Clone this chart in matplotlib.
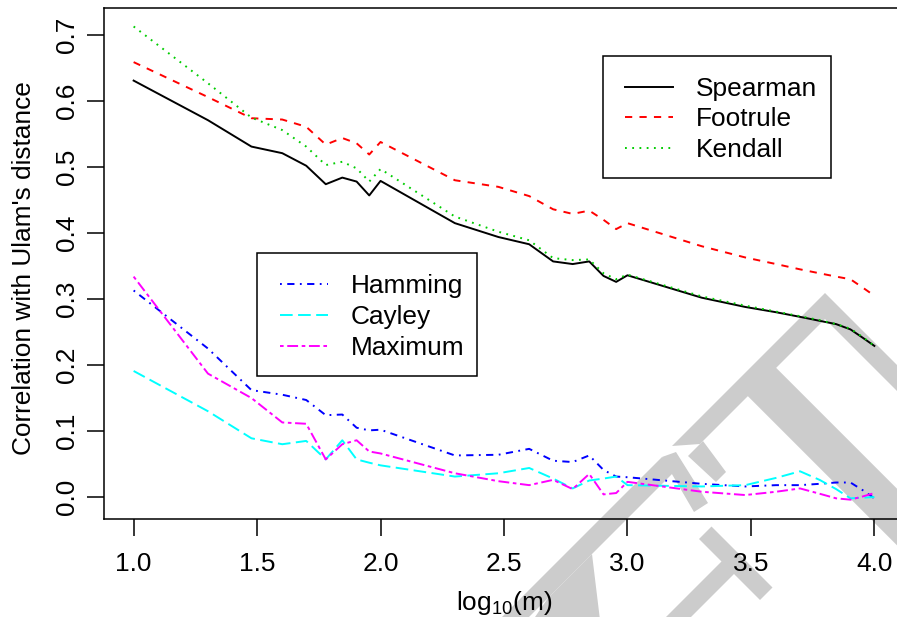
import numpy as np
import matplotlib.pyplot as plt
from matplotlib.patches import Polygon, Rectangle
from matplotlib.lines import Line2D

plt.rcParams['font.family'] = ['Liberation Sans', 'DejaVu Sans']
plt.rcParams['mathtext.default'] = 'regular'

# sample sizes (x axis is log10 of these)
m = [10, 20, 30, 40, 50, 60, 70, 80, 90,
     100, 200, 300, 400, 500, 600, 700, 800, 900,
     1000, 2000, 3000, 4000, 5000, 6000, 7000, 8000, 9000, 10000]

spearman = [0.631, 0.571, 0.531, 0.521, 0.502, 0.474, 0.484, 0.478, 0.457,
            0.479, 0.415, 0.394, 0.383, 0.357, 0.353, 0.357, 0.335, 0.326,
            0.336, 0.302, 0.288, 0.280, 0.273, 0.267, 0.262, 0.254, 0.241, 0.229]
footrule = [0.659, 0.606, 0.574, 0.572, 0.561, 0.534, 0.544, 0.536, 0.519,
            0.538, 0.480, 0.470, 0.456, 0.436, 0.429, 0.434, 0.420, 0.406,
            0.415, 0.380, 0.363, 0.353, 0.345, 0.339, 0.334, 0.330, 0.317, 0.305]
kendall = [0.713, 0.627, 0.575, 0.556, 0.531, 0.503, 0.508, 0.498, 0.478,
           0.497, 0.425, 0.402, 0.389, 0.362, 0.359, 0.360, 0.339, 0.330,
           0.337, 0.304, 0.290, 0.281, 0.274, 0.268, 0.262, 0.255, 0.242, 0.229]
hamming = [0.313, 0.225, 0.162, 0.155, 0.147, 0.124, 0.125, 0.105, 0.101,
           0.102, 0.063, 0.064, 0.073, 0.055, 0.053, 0.063, 0.041, 0.031,
           0.030, 0.020, 0.016, 0.018, 0.018, 0.020, 0.022, 0.022, 0.010, -0.002]
cayley = [0.191, 0.130, 0.089, 0.080, 0.085, 0.057, 0.086, 0.057, 0.052,
          0.048, 0.031, 0.036, 0.044, 0.028, 0.013, 0.025, 0.028, 0.031,
          0.018, 0.016, 0.018, 0.029, 0.039, 0.026, 0.012, -0.002, -0.001, 0.000]
maximum = [0.334, 0.187, 0.150, 0.113, 0.111, 0.057, 0.080, 0.086, 0.069,
           0.066, 0.036, 0.024, 0.018, 0.026, 0.012, 0.035, 0.004, 0.006,
           0.023, 0.008, 0.003, 0.008, 0.013, 0.005, -0.002, -0.004, 0.001, 0.006]

x_ticks = [1.0, 1.5, 2.0, 2.5, 3.0, 3.5, 4.0]
y_ticks = [0.0, 0.1, 0.2, 0.3, 0.4, 0.5, 0.6, 0.7]

W, H = 897, 617
FS = 18.9
LW = 1.4
U = 0.93  # R lty unit relative to line width

# R-like line types
lty = {
    'solid': '-',
    'dashed': (0, (4 * U, 4 * U)),
    'dotted': (0, (1 * U, 3 * U)),
    'dotdash': (0, (1 * U, 3 * U, 4 * U, 3 * U)),
    'longdash': (0, (7 * U, 3 * U)),
    'twodash': (0, (2 * U, 2 * U, 6 * U, 2 * U)),
}

series_top = [
    ("Spearman", spearman, "black", lty['solid']),
    ("Footrule", footrule, "#FF0000", lty['dashed']),
    ("Kendall", kendall, "#00CD00", lty['dotted']),
]
series_bottom = [
    ("Hamming", hamming, "#0000FF", lty['dotdash']),
    ("Cayley", cayley, "#00FFFF", lty['longdash']),
    ("Maximum", maximum, "#FF00FF", lty['twodash']),
]


def px(x, y):
    """pixel (top-left origin) -> figure fraction"""
    return (x / W, 1 - y / H)


fig = plt.figure(figsize=(W / 100, H / 100), dpi=100)

# light gray watermark letters ("...FT", tilted 45 deg) behind the plot
wm_color = "#CCCCCC"
watermark = [
    # T: crossbar, right serif, left serif, stem
    [(672, 446), (825, 293), (825, 319), (700, 444)],
    [(825, 293), (905, 373), (905, 399), (825, 319)],
    [(688, 456), (703, 441), (726, 472), (716, 482)],
    [(746.7, 395), (775, 366.7), (1000, 591.7), (1000, 648.3)],
    # F: top bar, its serif, stem, middle bar and its serif
    [(662, 457), (480, 639), (507, 639), (675, 471)],
    [(662, 457), (676, 452), (708, 503), (694, 512)],
    [(592, 554), (548, 598), (533, 620), (600, 620)],
    [(726.5, 556.5), (739, 569), (604, 704), (591.5, 691.5)],
    [(699, 539), (711.5, 526.5), (772.5, 587.5), (760, 600)],
]
for poly in watermark:
    fig.add_artist(Polygon([px(*p) for p in poly], closed=True,
                           transform=fig.transFigure, facecolor=wm_color,
                           edgecolor='none', zorder=-5))

ax = fig.add_axes([104 / W, (H - 519) / H, 800 / W, 511 / H])
ax.patch.set_alpha(0)

x = np.log10(m)
for name, vals, col, ls in series_top + series_bottom:
    ax.plot(x, vals, color=col, linestyle=ls, lw=LW, label=name)

ax.set_xlim(0.88, 4.12)
ax.set_ylim(-0.0333, 0.741)

ax.set_xticks(x_ticks, [f"{t:.1f}" for t in x_ticks])
ax.set_yticks(y_ticks, [f"{t:.1f}" for t in y_ticks], rotation=90, va='center')
ax.tick_params(direction='out', length=12.5, width=1.1, labelsize=FS)
ax.tick_params(axis='x', pad=11.5)
ax.tick_params(axis='y', pad=5.8)
for sp in ax.spines.values():
    sp.set_linewidth(1.1)

fig.text(*px(504, 610), r"log$_{10}$(m)", fontsize=FS, ha='center', va='baseline')
fig.text(*px(31, 268), "Correlation with Ulam's distance", fontsize=FS,
         rotation=90, rotation_mode='anchor', ha='center', va='baseline')


def draw_legend(box, rows, series, x_line, x_text):
    left, top, right, bottom = box
    fig.add_artist(Rectangle(px(left, bottom), (right - left) / W, (bottom - top) / H,
                             transform=fig.transFigure, facecolor='white',
                             edgecolor='black', lw=1.1, zorder=5))
    for y, (name, _, col, ls) in zip(rows, series):
        fig.add_artist(Line2D([x_line[0] / W, x_line[1] / W], [1 - y / H, 1 - y / H],
                              transform=fig.transFigure, color=col, linestyle=ls,
                              lw=LW, zorder=6))
        fig.text(*px(x_text, y + 9.4), name, fontsize=FS, ha='left',
                 va='baseline', zorder=6)


draw_legend((602.7, 55.7, 830.7, 178), [86.5, 117, 148], series_top, (625, 672.7), 696)
draw_legend((257, 253, 476.7, 376), [284, 315, 345.5], series_bottom, (280, 327.7), 350.7)

fig.savefig("out.png", dpi=100)
